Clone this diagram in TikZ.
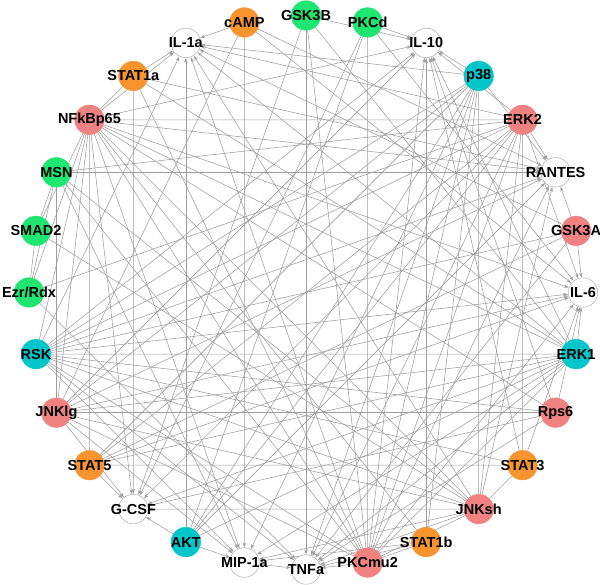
\documentclass[tikz,border=0pt]{standalone}
\usepackage{fontspec}
\setmainfont{Liberation Sans}
\usetikzlibrary{arrows.meta,backgrounds}
\definecolor{cor}{RGB}{247,148,48}
\definecolor{cgr}{RGB}{30,230,112}
\definecolor{cte}{RGB}{0,198,202}
\definecolor{cpk}{RGB}{240,130,130}
\definecolor{cedge}{RGB}{158,158,158}
\definecolor{cwb}{RGB}{175,175,175}
\tikzset{
  vbase/.style={circle, minimum size=29.5pt, inner sep=0pt, line width=0.5pt},
  nor/.style={vbase, fill=cor, draw=cor},
  ngr/.style={vbase, fill=cgr, draw=cgr},
  nte/.style={vbase, fill=cte, draw=cte},
  npk/.style={vbase, fill=cpk, draw=cpk},
  nwh/.style={vbase, fill=white, draw=cwb},
  lab/.style={font=\bfseries\fontsize{14.5}{15}\selectfont, inner sep=0pt, text=black},
  lnk/.style={draw=cedge, line width=0.55pt},
  arr/.style={lnk, -{Stealth[length=5pt,width=3.4pt]}, color=cedge}
}
\begin{document}
\begin{tikzpicture}
\useasboundingbox (0,0) rectangle (600pt,585pt);
\begin{scope}[shift={(306pt,292.5pt)}]
\foreach \id/\k/\s/\t in {
  il6/0/nwh/{IL-6}, gsk3a/1/npk/{GSK3A}, rantes/2/nwh/{RANTES}, erk2/3/npk/{ERK2},
  p38/4/nte/{p38}, il10/5/nwh/{IL-10}, pkcd/6/ngr/{PKCd}, gsk3b/7/ngr/{GSK3B},
  camp/8/nor/{cAMP}, il1a/9/nwh/{IL-1a}, stat1a/10/nor/{STAT1a}, nfkb/11/npk/{NFkBp65},
  msn/12/ngr/{MSN}, smad2/13/ngr/{SMAD2}, ezr/14/ngr/{Ezr/Rdx}, rsk/15/nte/{RSK},
  jnklg/16/npk/{JNKlg}, stat5/17/nor/{STAT5}, gcsf/18/nwh/{G-CSF}, akt/19/nte/{AKT},
  mip/20/nwh/{MIP-1a}, tnfa/21/nwh/{TNFa}, pkcmu2/22/npk/{PKCmu2}, stat1b/23/nor/{STAT1b},
  jnksh/24/npk/{JNKsh}, stat3/25/nor/{STAT3}, rps6/26/npk/{Rps6}, erk1/27/nte/{ERK1}}
{
  \node[\s] (\id) at ({\k*360/28}:277pt) {};
  \node[lab] (\id-t) at (\id) {\t};
}
\end{scope}
\begin{pgfonlayer}{background}
\foreach \a/\b in {
  nfkb/erk2, nfkb/stat1a, nfkb/erk1, nfkb/rps6, nfkb/jnksh, nfkb/stat1b,
  nfkb/pkcmu2, nfkb/stat5, nfkb/rsk, nfkb/smad2, nfkb/ezr, nfkb/jnklg,
  rsk/erk1, rsk/gsk3a, rsk/erk2, rsk/p38, rsk/pkcmu2, rsk/jnksh, rsk/rps6, rsk/stat3,
  jnklg/erk1, jnklg/rps6, jnklg/jnksh, jnklg/pkcmu2, jnklg/camp, jnklg/msn, jnklg/p38,
  pkcmu2/pkcd, pkcmu2/gsk3b, pkcmu2/p38, pkcmu2/erk2, pkcmu2/erk1, pkcmu2/msn,
  pkcmu2/stat1b, pkcmu2/jnksh, pkcmu2/stat1a,
  jnksh/p38, jnksh/erk2, jnksh/msn, jnksh/smad2, jnksh/stat3,
  erk1/stat1a, erk1/gsk3b, erk1/akt, erk1/stat5,
  erk2/stat3, erk2/msn, erk2/ezr, erk2/akt, erk2/stat5,
  p38/akt, p38/stat5, p38/stat1b,
  gsk3a/stat5, pkcd/akt, stat5/stat3, ezr/smad2, ezr/msn, smad2/msn}
  \draw[lnk] (\a) -- (\b);
\foreach \a/\b in {
  camp/il1a, stat1a/il1a, nfkb/il1a, akt/il1a, pkcmu2/il1a, jnksh/il1a, erk1/il1a,
  rsk/il1a, p38/il1a, gsk3a/il1a, erk2/il1a,
  p38/il10, erk2/il10, stat1b/il10, pkcd/il10, gsk3b/il10, nfkb/il10, jnklg/il10,
  rsk/il10, pkcmu2/il10, stat3/il10, rps6/il10, erk1/il10,
  erk2/rantes, p38/rantes, gsk3a/rantes, nfkb/rantes, rsk/rantes, jnklg/rantes,
  msn/rantes, stat1a/rantes, camp/rantes, akt/rantes, jnksh/rantes, pkcmu2/rantes,
  gsk3a/il6, erk1/il6, rps6/il6, stat3/il6, nfkb/il6, jnklg/il6, rsk/il6,
  pkcmu2/il6, pkcd/il6, camp/il6, stat5/il6, erk2/il6,
  jnksh/gcsf, stat5/gcsf, jnklg/gcsf, nfkb/gcsf, stat1a/gcsf, gsk3b/gcsf,
  pkcd/gcsf, erk2/gcsf, rps6/gcsf, akt/gcsf, erk1/gcsf,
  camp/mip, akt/mip, jnklg/mip, rsk/mip, nfkb/mip, erk1/mip, p38/mip,
  jnksh/mip, stat1b/mip, msn/mip,
  gsk3b/tnfa, mip/tnfa, pkcmu2/tnfa, jnksh/tnfa, erk2/tnfa, erk1/tnfa, rsk/tnfa,
  rps6/tnfa, gsk3a/tnfa, stat1b/tnfa, ezr/tnfa, p38/tnfa}
  \draw[arr] (\a) -- (\b);
\end{pgfonlayer}
\end{tikzpicture}
\end{document}
